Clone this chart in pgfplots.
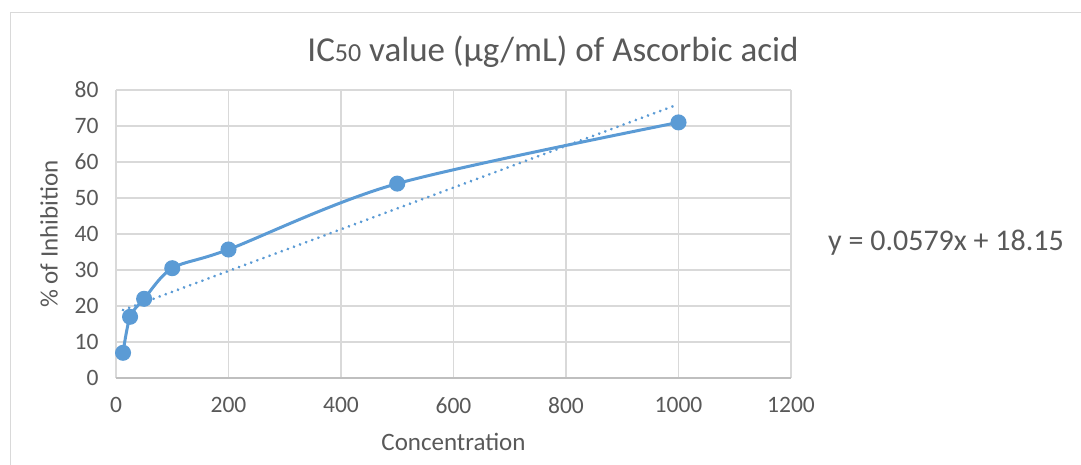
\documentclass[border=0pt]{standalone}
\usepackage{pgfplots}
\pgfplotsset{compat=1.18}
\usepackage{fontspec}
\setmainfont{Carlito}
\definecolor{exblue}{HTML}{5B9BD5}
\definecolor{txt}{HTML}{595959}
\definecolor{grd}{HTML}{D9D9D9}
\definecolor{axl}{HTML}{BFBFBF}
\begin{document}
\begin{tikzpicture}[x=1pt,y=1pt]
\useasboundingbox (0,0) rectangle (1081,465);
\fill[white] (0,0) rectangle (1081,465);
\draw[grd, line width=1pt] (10.5,0) -- (10.5,452.5) -- (1081,452.5);
\begin{axis}[
  at={(116pt,87pt)}, anchor=south west,
  scale only axis, width=675pt, height=288pt,
  xmin=0, xmax=1200, ymin=0, ymax=80,
  xtick={0,200,...,1200}, ytick={0,10,...,80},
  grid=major, major grid style={grd, line width=1.3pt},
  axis line style={draw=none},
  axis x line*=bottom, axis y line*=left,
  x axis line style={draw=axl, line width=1.3pt},
  tick style={draw=none},
  tick label style={font=\fontsize{23.5}{26}\selectfont, text=txt},
  /pgf/number format/assume math mode=true,
  /pgf/number format/1000 sep={},
  xticklabel style={yshift=-16pt},
  yticklabel style={xshift=-14pt},
  xlabel={Concentration}, ylabel={\% of Inhibition},
  label style={font=\fontsize{25}{28}\selectfont, text=txt},
  xlabel style={yshift=-13pt},
  ylabel style={yshift=10pt},
  clip=false,
]
\addplot[exblue, line width=3pt, smooth, tension=0.5, mark=*, mark size=6.5pt, mark options={fill=exblue, draw=none}]
  coordinates {(12.5,7) (25,17) (50,22) (100,30.5) (200,35.7) (500,54) (1000,71)};
\addplot[exblue, line width=3pt, dash pattern=on 0.01pt off 6.5pt, line cap=round] coordinates {(12.5,18.87) (1000,76.05)};
\end{axis}
\node[text=txt, font=\fontsize{35}{38}\selectfont] at (553,413) {IC{\fontsize{26}{28}\selectfont 50} value (µg/mL) of Ascorbic acid};
\node[text=txt, font=\fontsize{30}{33}\selectfont] at (946,222) {y = 0.0579x + 18.15};
\end{tikzpicture}
\end{document}
